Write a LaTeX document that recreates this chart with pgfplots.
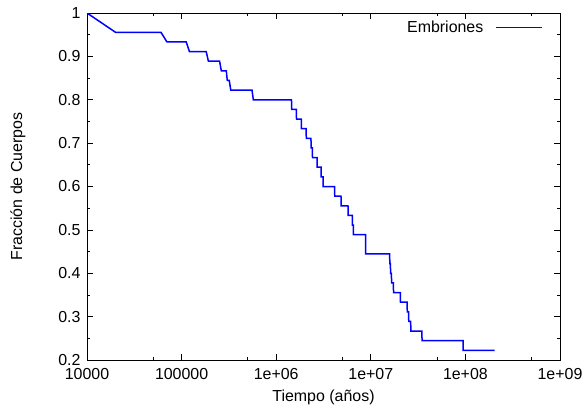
\documentclass[border=0pt]{standalone}
\usepackage{fontspec}
\setmainfont{Liberation Sans}
\usepackage{pgfplots}
\pgfplotsset{compat=1.18}
\begin{document}
\begin{tikzpicture}[x=1bp,y=1bp]
\path[use as bounding box] (-87bp,-54bp) rectangle (500bp,360bp);
\begin{axis}[
  at={(0,0)}, anchor=south west,
  scale only axis, width=473bp, height=347bp,
  xmode=log, xmin=1e4, xmax=1e9, ymin=0.2, ymax=1,
  log basis x=10,
  xtick={1e4,1e5,1e6,1e7,1e8,1e9},
  xticklabels={10000,100000,1e+06,1e+07,1e+08,1e+09},
  minor xtick={5e4,5e5,5e6,5e7,5e8},
  ytick={0.2,0.3,0.4,0.5,0.6,0.7,0.8,0.9,1},
  yticklabels={0.2,0.3,0.4,0.5,0.6,0.7,0.8,0.9,1},
  minor ytick={0.25,0.35,0.45,0.55,0.65,0.75,0.85,0.95},
  tick align=inside,
  major tick length=6bp, minor tick length=3bp,
  tick style={black, line width=0.7bp},
  axis line style={black, line width=0.9bp},
  xticklabel style={font=\fontsize{16}{18}\selectfont, yshift=-5bp},
  yticklabel style={font=\fontsize{16}{18}\selectfont, xshift=-3bp},
  xlabel={Tiempo (años)},
  ylabel={Fracción de Cuerpos},
  xlabel style={font=\fontsize{16}{18}\selectfont, at={(axis description cs:0.5,-0.1066)}, anchor=center},
  ylabel style={font=\fontsize{16}{18}\selectfont, at={(axis description cs:-0.1459,0.5)}, anchor=center, rotate=0},
  legend style={draw=none, fill=none, at={(rel axis cs:1,1)}, anchor=north east, xshift=-14bp, yshift=-4bp, font=\fontsize{16}{18}\selectfont},
  legend cell align=right,
  legend plot pos=right,
  legend image code/.code={\draw[#1] (0bp,0bp) -- (46bp,0bp);},
]
\addplot[blue, line width=1.5bp] coordinates {
(1e4,1)
(2e4,0.9556)
(6.05e4,0.9556)
(7.0e4,0.9333)
(1.12e5,0.9333)
(1.21e5,0.9111)
(1.82e5,0.9111)
(1.92e5,0.8889)
(2.52e5,0.8889)
(2.63e5,0.8667)
(2.97e5,0.8667)
(3.04e5,0.8444)
(3.19e5,0.8444)
(3.31e5,0.8222)
(5.55e5,0.8222)
(5.73e5,0.8)
(1.45e6,0.8)
(1.46e6,0.7778)
(1.63e6,0.7778)
(1.64e6,0.7556)
(1.84e6,0.7556)
(1.85e6,0.7333)
(2.07e6,0.7333)
(2.08e6,0.7111)
(2.33e6,0.7111)
(2.34e6,0.6889)
(2.41e6,0.6889)
(2.42e6,0.6667)
(2.70e6,0.6667)
(2.71e6,0.6444)
(2.98e6,0.6444)
(2.99e6,0.6222)
(3.13e6,0.6222)
(3.14e6,0.6)
(4.14e6,0.6)
(4.16e6,0.5778)
(4.84e6,0.5778)
(4.86e6,0.5556)
(5.74e6,0.5556)
(5.76e6,0.5333)
(6.38e6,0.5333)
(6.40e6,0.5111)
(6.53e6,0.5111)
(6.55e6,0.4889)
(8.81e6,0.4889)
(8.83e6,0.4444)
(1.58e7,0.4444)
(1.59e7,0.4222)
(1.61e7,0.4222)
(1.62e7,0.4)
(1.65e7,0.4)
(1.66e7,0.3778)
(1.73e7,0.3778)
(1.74e7,0.3556)
(2.05e7,0.3556)
(2.06e7,0.3333)
(2.42e7,0.3333)
(2.43e7,0.3111)
(2.51e7,0.3111)
(2.52e7,0.2889)
(2.64e7,0.2889)
(2.65e7,0.2667)
(3.47e7,0.2667)
(3.48e7,0.2444)
(9.45e7,0.2444)
(9.47e7,0.2222)
(2.04e8,0.2222)
};
\addlegendentry{Embriones\kern10bp}
\end{axis}
\end{tikzpicture}
\end{document}
